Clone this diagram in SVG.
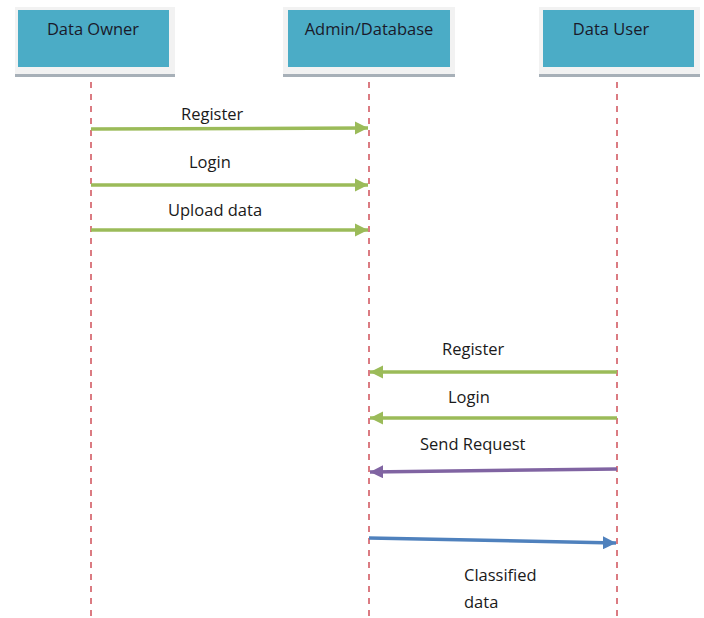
<svg xmlns="http://www.w3.org/2000/svg" width="704" height="618" viewBox="0 0 704 618">
  <style>
    .box { fill: #4BACC6; }
    .frame { fill: #F2F2F2; }
    .shadow { fill: #A7B0B8; }
    .title { font-family: "Open Sans", "Liberation Sans", sans-serif; font-size: 16.5px; fill: #1A1A2A; text-anchor: middle; }
    .lbl { font-family: "Open Sans", "Liberation Sans", sans-serif; font-size: 16.5px; fill: #1A1A1A; }
    .life { stroke: #D0505A; stroke-width: 1.5; stroke-dasharray: 6 6; fill: none; }
    .msg { stroke-width: 3.5; fill: none; }
    .green { stroke: #9BBB59; }
    .purple { stroke: #8064A2; }
    .blue { stroke: #4F81BD; }
  </style>
  <defs>
    <marker id="ahGreen" viewBox="0 0 10 10" refX="10" refY="5" markerWidth="3.8" markerHeight="3.8" markerUnits="strokeWidth" orient="auto">
      <path d="M0,0 L10,5 L0,10 z" fill="#9BBB59"/>
    </marker>
    <marker id="ahPurple" viewBox="0 0 10 10" refX="10" refY="5" markerWidth="3.8" markerHeight="3.8" markerUnits="strokeWidth" orient="auto">
      <path d="M0,0 L10,5 L0,10 z" fill="#8064A2"/>
    </marker>
    <marker id="ahBlue" viewBox="0 0 10 10" refX="10" refY="5" markerWidth="3.8" markerHeight="3.8" markerUnits="strokeWidth" orient="auto">
      <path d="M0,0 L10,5 L0,10 z" fill="#4F81BD"/>
    </marker>
  </defs>
  <rect width="704" height="618" fill="#FFFFFF"/>

  <!-- lifelines -->
  <g id="lifelines">
    <line class="life" x1="91" y1="70" x2="91" y2="618"/>
    <line class="life" x1="369" y1="70" x2="369" y2="618"/>
    <line class="life" x1="617" y1="70" x2="617" y2="618"/>
  </g>

  <g id="data-owner">
    <rect class="frame" x="15" y="7" width="160" height="70"/>
    <rect class="shadow" x="15" y="74" width="160" height="3"/>
    <rect class="box" x="18" y="10" width="151" height="57"/>
    <text class="title" x="93" y="35">Data Owner</text>
  </g>

  <g id="admin-database">
    <rect class="frame" x="283" y="7" width="172" height="70"/>
    <rect class="shadow" x="283" y="74" width="172" height="3"/>
    <rect class="box" x="288" y="10" width="162" height="57"/>
    <text class="title" x="369" y="35">Admin/Database</text>
  </g>

  <g id="data-user">
    <rect class="frame" x="539" y="7" width="161" height="70"/>
    <rect class="shadow" x="539" y="74" width="161" height="3"/>
    <rect class="box" x="543" y="10" width="151" height="57"/>
    <text class="title" x="611" y="35">Data User</text>
  </g>

  <!-- messages -->
  <g id="connectors">
    <line class="msg green" x1="91" y1="129" x2="368" y2="128" marker-end="url(#ahGreen)"/>
    <line class="msg green" x1="91" y1="185" x2="368" y2="185" marker-end="url(#ahGreen)"/>
    <line class="msg green" x1="91" y1="230" x2="368" y2="230" marker-end="url(#ahGreen)"/>
    <line class="msg green" x1="617" y1="372" x2="370" y2="372" marker-end="url(#ahGreen)"/>
    <line class="msg green" x1="617" y1="418" x2="370" y2="418" marker-end="url(#ahGreen)"/>
    <line class="msg purple" x1="617" y1="469" x2="370" y2="472" marker-end="url(#ahPurple)"/>
    <line class="msg blue" x1="369" y1="538" x2="616" y2="543" marker-end="url(#ahBlue)"/>
  </g>

  <g id="labels">
    <text class="lbl" x="181" y="120">Register</text>
    <text class="lbl" x="189" y="168">Login</text>
    <text class="lbl" x="168" y="216">Upload data</text>
    <text class="lbl" x="442" y="355">Register</text>
    <text class="lbl" x="448" y="403">Login</text>
    <text class="lbl" x="420" y="450">Send Request</text>
    <text class="lbl" x="464" y="581">Classified</text>
    <text class="lbl" x="464" y="608">data</text>
  </g>
</svg>
